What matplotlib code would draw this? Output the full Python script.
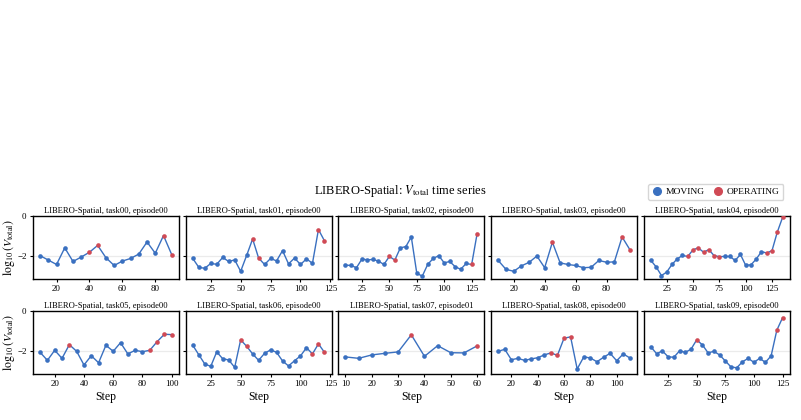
import matplotlib
matplotlib.use("Agg")
import matplotlib.pyplot as plt
from matplotlib.lines import Line2D
from matplotlib.ticker import MultipleLocator
import numpy as np

plt.rcParams['font.family'] = ['Liberation Serif', 'DejaVu Serif']
plt.rcParams['mathtext.fontset'] = 'stix'

BLUE = '#3A70C0'
RED = '#D04A55'

# panel labels, values (steps 10, 15, 20, ...) and steps flagged OPERATING
titles = ['task00, episode00', 'task01, episode00', 'task02, episode00',
          'task03, episode00', 'task04, episode00', 'task05, episode00',
          'task06, episode00', 'task07, episode01', 'task08, episode00',
          'task09, episode00']
xtick_step = [20, 25, 25, 20, 25, 20, 25, 10, 20, 25]

v0 = [-1.98, -2.2, -2.42, -1.59, -2.27, -2.05, -1.81, -1.47, -2.08, -2.47,
      -2.25, -2.12, -1.9, -1.3, -1.86, -0.98, -1.93]
op0 = [40, 45, 85, 90]

v1 = [-2.12, -2.56, -2.61, -2.37, -2.41, -2.07, -2.27, -2.19, -2.76, -1.97,
      -1.15, -2.1, -2.42, -2.12, -2.24, -1.73, -2.39, -2.1, -2.42, -2.14,
      -2.36, -0.68, -1.24]
op1 = [60, 65, 115, 120]

v2 = [-2.45, -2.47, -2.58, -2.15, -2.19, -2.17, -2.25, -2.42, -2.02, -2.2,
      -1.59, -1.53, -1.05, -2.86, -3.0, -2.41, -2.12, -1.98, -2.34, -2.27,
      -2.53, -2.66, -2.37, -2.42, -0.88]
op2 = [50, 55, 125, 130]

v3 = [-2.22, -2.66, -2.76, -2.49, -2.31, -2.0, -2.58, -1.31, -2.34, -2.42,
      -2.47, -2.58, -2.56, -2.22, -2.31, -2.29, -1.05, -1.68]
op3 = [45, 90, 95]

v4 = [-2.22, -2.54, -2.97, -2.8, -2.42, -2.14, -1.97, -2.02, -1.69, -1.59,
      -1.81, -1.68, -1.98, -2.03, -2.02, -2.02, -2.22, -1.92, -2.46, -2.44,
      -2.15, -1.78, -1.85, -1.73, -0.81, -0.08]
op4 = [45, 50, 55, 60, 65, 70, 75, 120, 125, 130, 135]

v5 = [-2.05, -2.45, -1.95, -2.35, -1.67, -2.0, -2.68, -2.22, -2.57, -1.7,
      -2.0, -1.57, -2.13, -1.95, -2.02, -1.95, -1.52, -1.15, -1.17]
op5 = [30, 85, 90, 95, 100]

v6 = [-1.7, -2.17, -2.63, -2.75, -2.03, -2.37, -2.43, -2.8, -1.43, -1.75,
      -2.13, -2.45, -2.1, -1.93, -2.05, -2.48, -2.73, -2.47, -2.23, -1.82,
      -2.13, -1.63, -2.05]
op6 = [50, 55, 110, 115, 120]

v7 = [-2.28, -2.35, -2.18, -2.1, -2.03, -1.18, -2.25, -1.72, -2.07, -2.08,
      -1.73]
op7 = [35, 60]

v8 = [-2.0, -1.9, -2.42, -2.35, -2.45, -2.38, -2.32, -2.18, -2.08, -2.2,
      -1.35, -1.28, -2.88, -2.28, -2.33, -2.52, -2.3, -2.1, -2.47, -2.13,
      -2.33]
op8 = [50, 55, 60, 65]

v9 = [-1.78, -2.12, -1.98, -2.27, -2.3, -1.98, -2.05, -1.9, -1.43, -1.68,
      -2.08, -2.0, -2.18, -2.48, -2.78, -2.82, -2.52, -2.35, -2.55, -2.35,
      -2.55, -2.23, -0.95, -0.33]
op9 = [50, 120, 125]

series = [v0, v1, v2, v3, v4, v5, v6, v7, v8, v9]
operating = [op0, op1, op2, op3, op4, op5, op6, op7, op8, op9]

fig, axes = plt.subplots(2, 5, figsize=(8.01, 4.2), dpi=100, sharey=True)
fig.subplots_adjust(left=0.041, right=0.986, top=0.486, bottom=0.110,
                    wspace=0.045, hspace=0.52)

for i, ax in enumerate(axes.flat):
    vals = np.array(series[i])
    steps = 10 + 5 * np.arange(len(vals))
    is_op = np.isin(steps, operating[i])
    ax.axhline(-2, color='#ebebeb', lw=0.9, zorder=0)
    ax.plot(steps, vals, color=BLUE, lw=1.0, zorder=2)
    ax.scatter(steps[~is_op], vals[~is_op], s=11, color=BLUE, zorder=3, linewidths=0)
    ax.scatter(steps[is_op], vals[is_op], s=11, color=RED, zorder=3, linewidths=0)
    ax.set_title('LIBERO-Spatial, ' + titles[i], fontsize=6.1, pad=2)
    ax.set_ylim(-3.12, 0.0)
    ax.margins(x=0.055)
    ax.yaxis.set_major_locator(MultipleLocator(2))
    ax.xaxis.set_major_locator(MultipleLocator(xtick_step[i]))
    ax.tick_params(labelsize=6.5, length=2.5, width=0.8, pad=2)
    for sp in ax.spines.values():
        sp.set_linewidth(1.0)
    if i >= 5:
        ax.set_xlabel('Step', fontsize=8.5, labelpad=2)

for ax in axes[:, 0]:
    ax.set_ylabel(r'$\log_{10}(V_{\mathrm{total}})$', fontsize=8.5)
    ax.yaxis.set_label_coords(-0.105, 0.5)

fig.suptitle(r'LIBERO-Spatial: $V_{\mathrm{total}}$ time series', fontsize=9,
             y=0.565)

handles = [Line2D([], [], marker='o', ls='', color=BLUE, markersize=5.5),
           Line2D([], [], marker='o', ls='', color=RED, markersize=5.5)]
fig.legend(handles, ['MOVING', 'OPERATING'], loc='upper right',
           bbox_to_anchor=(0.984, 0.573), ncol=2, fontsize=6.8, frameon=True,
           handletextpad=0.4, columnspacing=1.0, borderpad=0.4,
           handlelength=1.0, fancybox=True, edgecolor='#cccccc')

fig.savefig('out.png', dpi=100)
